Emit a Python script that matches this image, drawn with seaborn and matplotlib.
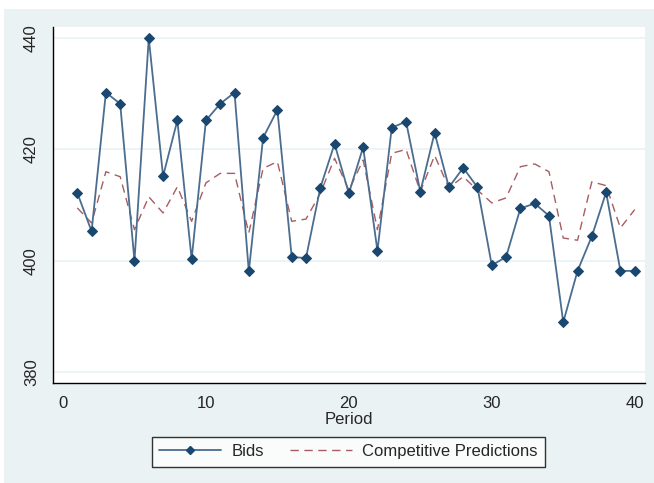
import matplotlib
matplotlib.use("Agg")
import matplotlib.pyplot as plt
import seaborn as sns
import pandas as pd
from matplotlib.patches import Rectangle
from matplotlib.lines import Line2D

periods = list(range(1, 41))
bids = [412.2, 405.3, 430.2, 428.2, 400.0, 440.0, 415.2, 425.2, 400.3, 425.2,
        428.2, 430.2, 398.1, 422.1, 427.1, 400.7, 400.5, 413.1, 421.0, 412.1,
        420.4, 401.8, 423.9, 425.0, 412.4, 423.0, 413.2, 416.7, 413.2, 399.2,
        400.7, 409.4, 410.3, 408.1, 389.0, 398.2, 404.4, 412.3, 398.2, 398.2]
predictions = [409.5, 406.8, 416.0, 415.1, 405.6, 411.5, 408.6, 413.3, 407.1, 414.0,
               415.7, 415.7, 405.0, 416.6, 417.8, 407.1, 407.5, 412.1, 418.4, 412.7,
               418.1, 405.6, 419.3, 420.0, 412.4, 418.9, 413.1, 415.1, 412.7, 410.4,
               411.3, 416.9, 417.4, 416.0, 404.1, 403.7, 414.2, 413.5, 405.9, 409.2]
x_ticks = [0, 10, 20, 30, 40]
y_ticks = [380, 400, 420, 440]

df = pd.DataFrame({"Period": periods, "Bids": bids, "Pred": predictions})

sns.set_style("white")
plt.rcParams['font.family'] = ['Liberation Sans', 'DejaVu Sans']

W, H = 654, 483
fs = 12
fig = plt.figure(figsize=(W / 100, H / 100), dpi=100)
fig.patch.set_facecolor("white")
bg = "#eaf2f3"
fig.add_artist(Rectangle((4 / W, 0), 1 - 4 / W, 1 - 9 / H, transform=fig.transFigure,
                         facecolor=bg, edgecolor="none", zorder=-10))

ax = fig.add_axes([53 / W, 1 - 383 / H, (645 - 53) / W, (383 - 27) / H])
ax.set_facecolor("white")

for yv in y_ticks:
    ax.axhline(yv, color=bg, lw=1.2, zorder=0)

bid_color = "#1a476f"
bid_line = "#4a6d90"
pred_color = "#90353b"
sns.lineplot(data=df, x="Period", y="Pred", ax=ax, color=pred_color, lw=1.0,
             linestyle=(0, (6, 4)), alpha=0.8, zorder=2)
sns.lineplot(data=df, x="Period", y="Bids", ax=ax, color=bid_line, lw=1.3,
             marker="D", markersize=5.5, markerfacecolor=bid_color,
             markeredgecolor=bid_color, zorder=3)

ax.set_xlim(-0.70, 40.72)
ax.set_ylim(378.08, 441.97)
ax.set_xticks(x_ticks)
ax.set_yticks(y_ticks)
ax.set_xticklabels([str(v) for v in x_ticks], fontsize=fs)
ax.set_yticklabels([str(v) for v in y_ticks], fontsize=fs, rotation=90, va="center")
ax.tick_params(axis="both", direction="out", length=5, width=1, color="black")
ax.tick_params(axis="x", pad=4.5)
ax.tick_params(axis="y", pad=5)
ax.set_xlabel("Period", fontsize=fs, labelpad=0.5)
ax.set_ylabel("")
for s in ["top", "right"]:
    ax.spines[s].set_visible(False)
for s in ["left", "bottom"]:
    ax.spines[s].set_color("black")
    ax.spines[s].set_linewidth(1.0)

handles = [
    Line2D([], [], color=bid_line, lw=1.3, marker="D", markersize=4,
           markerfacecolor=bid_color, markeredgecolor=bid_color),
    Line2D([], [], color=pred_color, lw=1.0, linestyle=(0, (6, 4)), alpha=0.8),
]
leg = fig.legend(handles, ["Bids", "Competitive Predictions"], ncol=2,
                 loc="center", bbox_to_anchor=(348.5 / W, 1 - 451.5 / H),
                 fontsize=fs, frameon=True, fancybox=False, edgecolor="black",
                 handlelength=3.7, columnspacing=1.6, borderpad=0.45,
                 handletextpad=0.6, borderaxespad=0)
leg.get_frame().set_linewidth(1.0)
leg.get_frame().set_facecolor("white")

fig.savefig("out.png", dpi=100, facecolor=fig.get_facecolor())
